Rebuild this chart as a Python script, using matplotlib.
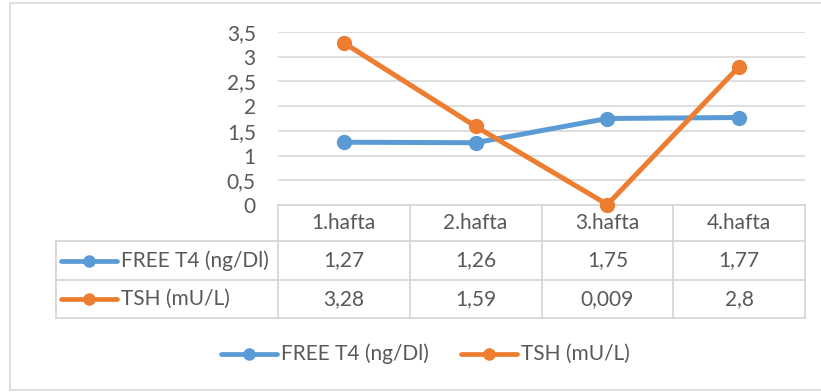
import matplotlib
matplotlib.use('Agg')
import matplotlib.pyplot as plt

weeks = ['1.hafta', '2.hafta', '3.hafta', '4.hafta']
free_t4 = [1.27, 1.26, 1.75, 1.77]
tsh = [3.28, 1.59, 0.009, 2.8]
series_names = ['FREE T4 (ng/Dl)', 'TSH (mU/L)']
yticks = [0, 0.5, 1, 1.5, 2, 2.5, 3, 3.5]

BLUE = '#5b9bd5'
ORANGE = '#ed7d31'
TEXT = '#595959'
GRID = '#d9d9d9'

plt.rcParams['font.family'] = ['Lato', 'DejaVu Sans']

W, H = 821, 392
fig = plt.figure(figsize=(W / 100, H / 100), dpi=100)

# overlay axes in pixel units: frame, data table and legend
ov = fig.add_axes([0, 0, 1, 1])
ov.set_xlim(0, W)
ov.set_ylim(H, 0)
ov.axis('off')

# chart frame
ov.plot([10, 10, W + 5], [390, 3, 3], color=GRID, lw=1.2)
ov.plot([10, W + 5], [390, 390], color=GRID, lw=1.2)

# plot area
left, right, top, bottom = 278, 805, 32, 205
ax = fig.add_axes([left / W, 1 - bottom / H, (right - left) / W, (bottom - top) / H])
ax.set_facecolor('none')
x = list(range(len(weeks)))
ax.plot(x, free_t4, color=BLUE, lw=3.6, marker='o', ms=10, clip_on=False, zorder=3)
ax.plot(x, tsh, color=ORANGE, lw=3.6, marker='o', ms=10, clip_on=False, zorder=4)
ax.set_xlim(-0.5, len(weeks) - 0.5)
ax.set_ylim(0, 3.5)
ax.set_yticks(yticks)
ax.set_yticklabels([('%g' % v).replace('.', ',') for v in yticks])
ax.set_xticks([])
ax.tick_params(axis='y', length=0, pad=16, labelsize=15, labelcolor=TEXT)
ax.grid(axis='y', color=GRID, lw=1.2)
ax.set_axisbelow(True)
for s in ax.spines.values():
    s.set_visible(False)

# data table
col_w = (right - left) / len(weeks)
col_edges = [left + i * col_w for i in range(len(weeks) + 1)]
tab_left = 56
row_edges = [205, 241, 280, 318]
tc = '#d4d4d4'
ov.plot([left, right], [row_edges[0]] * 2, color=tc, lw=1.2)
for yy in row_edges[1:]:
    ov.plot([tab_left, right], [yy, yy], color=tc, lw=1.2)
for xx in col_edges:
    ov.plot([xx, xx], [row_edges[0], row_edges[-1]], color=tc, lw=1.2)
ov.plot([tab_left, tab_left], [row_edges[1], row_edges[-1]], color=tc, lw=1.2)

fs = 15
for i, w in enumerate(weeks):
    cx = left + (i + 0.5) * col_w
    ov.text(cx, (row_edges[0] + row_edges[1]) / 2, w, ha='center', va='center',
            fontsize=fs, color=TEXT)

rows = [free_t4, tsh]
colors = [BLUE, ORANGE]
for r, (vals, name, c) in enumerate(zip(rows, series_names, colors)):
    cy = (row_edges[r + 1] + row_edges[r + 2]) / 2
    ov.plot([61, 117], [cy, cy], color=c, lw=3.4, solid_capstyle='round')
    ov.plot(89, cy, 'o', color=c, ms=8)
    ov.text(121, cy, name, ha='left', va='center', fontsize=fs, color=TEXT)
    for i, v in enumerate(vals):
        cx = left + (i + 0.5) * col_w
        ov.text(cx, cy, ('%g' % v).replace('.', ','), ha='center', va='center',
                fontsize=fs, color=TEXT)

# legend below the table
leg_y = 354
for x0, name, c in zip([221, 461], series_names, colors):
    ov.plot([x0, x0 + 56], [leg_y, leg_y], color=c, lw=3.4, solid_capstyle='round')
    ov.plot(x0 + 28, leg_y, 'o', color=c, ms=8)
    ov.text(x0 + 60, leg_y, name, ha='left', va='center', fontsize=fs, color=TEXT)

fig.savefig('out.png', dpi=100)
